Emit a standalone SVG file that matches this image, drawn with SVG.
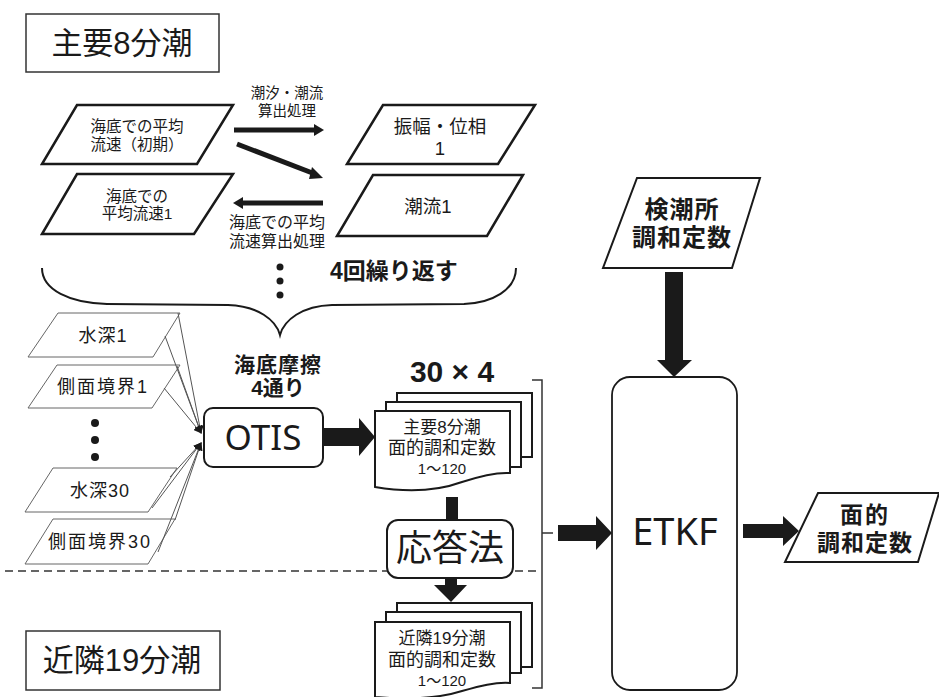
<svg xmlns="http://www.w3.org/2000/svg" width="939" height="697" viewBox="0 0 939 697">
<style>
.t{font-family:"Liberation Sans","Noto Sans CJK JP",sans-serif;fill:#1a1a1a;text-anchor:middle}
.b{font-weight:700}
.thick{fill:#fff;stroke:#1a1a1a;stroke-width:2.5;stroke-linejoin:miter}
.thin{fill:#fff;stroke:#666;stroke-width:1}
.box{fill:#fff;stroke:#1a1a1a;stroke-width:2}
.ln{fill:none;stroke:#1a1a1a;stroke-width:5}
.fine{fill:none;stroke:#555;stroke-width:1}
.ar{fill:#1a1a1a}
.doc{fill:#fff;stroke:#1a1a1a;stroke-width:2;stroke-linejoin:miter}
</style>
<defs>
<marker id="sm" viewBox="0 0 10 10" refX="9" refY="5" markerWidth="8" markerHeight="8" markerUnits="userSpaceOnUse" orient="auto"><path d="M0,0 L10,5 L0,10 Z" fill="#1a1a1a"/></marker>
</defs>
<rect width="939" height="697" fill="#fff"/>

<g id="label-main8">
<rect x="26" y="14" width="193" height="58" fill="#fff" stroke="#333" stroke-width="1.5"/>
<text class="t" x="122" y="54" font-size="31">主要8分潮</text>
</g>
<g id="label-near19">
<rect x="26" y="631" width="194" height="59" fill="#fff" stroke="#333" stroke-width="1.5"/>
<text class="t" x="122" y="671" font-size="31">近隣19分潮</text>
</g>

<g id="n-vel0">
<polygon class="thick" points="77,105 233,105 197,164 42,164"/>
<text class="t" x="137" y="132" font-size="15.5">海底での平均</text>
<text class="t" x="137" y="150" font-size="15.5">流速（初期）</text>
</g>
<g id="n-vel1">
<polygon class="thick" points="77,174 233,174 194,234 42,234"/>
<text class="t" x="137" y="202" font-size="15.5">海底での</text>
<text class="t" x="137" y="219" font-size="15.5">平均流速1</text>
</g>
<g id="n-amp">
<polygon class="thick" points="383,105 535,105 498,164 347,164"/>
<text class="t" x="440" y="133" font-size="18.5">振幅・位相</text>
<text class="t" x="440" y="155" font-size="18.5">1</text>
</g>
<g id="n-cur">
<polygon class="thick" points="373,175 523,175 487,236 337,236"/>
<text class="t" x="428" y="213" font-size="18.5">潮流1</text>
</g>

<g id="n-d1">
<polygon class="thin" points="58,313 180,313 153,357 28,357"/>
<text class="t" x="103" y="342" font-size="18" letter-spacing="1">水深1</text>
</g>
<g id="n-s1">
<polygon class="thin" points="57,365 180,365 152,408 28,408"/>
<text class="t" x="103" y="393" font-size="18" letter-spacing="2">側面境界1</text>
</g>
<g id="n-d30">
<polygon class="thin" points="53,468 177,468 148,512 25,512"/>
<text class="t" x="100" y="497" font-size="18" letter-spacing="1">水深30</text>
</g>
<g id="n-s30">
<polygon class="thin" points="53,519 175,519 148,564 25,564"/>
<text class="t" x="100" y="548" font-size="18" letter-spacing="2">側面境界30</text>
</g>

<g id="n-otis">
<rect class="box" x="204" y="408" width="119" height="59" rx="9"/>
<text class="t" x="263" y="450" font-size="35" style="font-family:'Noto Sans',sans-serif">OTIS</text>
</g>

<g id="n-doc1">
<rect class="doc" x="397" y="393" width="135" height="64"/>
<rect class="doc" x="386" y="402" width="135" height="65"/>
<path class="doc" d="M375,411 H510 V473 C495,472 480,476 462,482 C440,490 410,493 375,487 Z"/>
<text class="t" x="442" y="433" font-size="17">主要8分潮</text>
<text class="t" x="442" y="454" font-size="18">面的調和定数</text>
<text class="t" x="442" y="474" font-size="15">1〜120</text>
</g>

<g id="n-resp">
<rect class="box" x="387" y="520" width="126" height="58" rx="11"/>
<text class="t" x="450" y="561" font-size="36">応答法</text>
</g>

<g id="n-doc2">
<rect class="doc" x="397" y="603" width="135" height="64"/>
<rect class="doc" x="386" y="612" width="135" height="61"/>
<path class="doc" d="M375,622 H510 V683 C495,682 480,686 462,691 C440,698 410,700 375,697 Z"/>
<text class="t" x="442" y="644" font-size="17">近隣19分潮</text>
<text class="t" x="442" y="666" font-size="18">面的調和定数</text>
<text class="t" x="442" y="686" font-size="15">1〜120</text>
</g>

<g id="n-station">
<polygon class="box" points="637,178 760,178 732,268 603,268"/>
<text class="t b" x="682" y="218" font-size="24" letter-spacing="1">検潮所</text>
<text class="t b" x="682" y="246" font-size="24" letter-spacing="1">調和定数</text>
</g>

<g id="n-etkf">
<rect x="612" y="377" width="125" height="313" rx="18" fill="#fff" stroke="#1a1a1a" stroke-width="1.8"/>
<text class="t" x="675" y="545" font-size="38" style="font-family:'Noto Sans',sans-serif">ETKF</text>
</g>

<g id="n-out">
<polygon class="box" points="818,493 939,493 918,562 785,562"/>
<text class="t b" x="865" y="523" font-size="23" letter-spacing="2">面的</text>
<text class="t b" x="865" y="551" font-size="23" letter-spacing="1">調和定数</text>
</g>

<g id="connectors">
<line class="ln" x1="234" y1="130" x2="316" y2="130"/>
<polygon class="ar" points="314,124 324,130 314,136"/>
<line class="ln" x1="237" y1="144" x2="315" y2="174"/>
<polygon class="ar" points="312,167 323,178 309,179"/>
<line class="ln" x1="323" y1="203" x2="241" y2="203"/>
<polygon class="ar" points="243,197 233,203 243,209"/>

<path d="M42,268 C42,290 70,303 107,304 L228,305 C258,306 276,320 280,335 C284,320 302,306 332,305 L464,304 C492,303 516,290 516,268" fill="none" stroke="#1a1a1a" stroke-width="2"/>

<g class="fine">
<line x1="178" y1="313" x2="201" y2="433" marker-end="url(#sm)"/>
<line x1="165" y1="336" x2="201" y2="433" marker-end="url(#sm)"/>
<line x1="177" y1="366" x2="201" y2="433" marker-end="url(#sm)"/>
<line x1="164" y1="388" x2="201" y2="433" marker-end="url(#sm)"/>
<line x1="170" y1="477" x2="201" y2="443" marker-end="url(#sm)"/>
<line x1="152" y1="508" x2="201" y2="443" marker-end="url(#sm)"/>
<line x1="175" y1="520" x2="201" y2="443" marker-end="url(#sm)"/>
<line x1="158" y1="552" x2="201" y2="443" marker-end="url(#sm)"/>
</g>

<polygon class="ar" points="323,428 359,428 359,418 375,437 359,456 359,446 323,446"/>
<polygon class="ar" points="446,497 458,497 458,520 446,520"/>
<polygon class="ar" points="445,578 457,578 457,585 467,585 451,602 434,585 445,585"/>

<path d="M532,380 H542 V688 H532 M542,533 H553" fill="none" stroke="#333" stroke-width="1.5"/>
<polygon class="ar" points="558,525 596,525 596,516 612,533 596,550 596,541 558,541"/>
<polygon class="ar" points="665,272 683,272 683,360 692,360 674,377 657,360 665,360"/>
<polygon class="ar" points="743,524 783,524 783,516 799,531 783,546 783,538 743,538"/>

<line x1="5" y1="571" x2="387" y2="571" stroke="#333" stroke-width="1.5" stroke-dasharray="8,5"/>
<line x1="515" y1="571" x2="540" y2="571" stroke="#333" stroke-width="1.5" stroke-dasharray="8,5"/>
</g>

<g id="dots">
<circle cx="280" cy="267" r="3.5" fill="#1a1a1a"/>
<circle cx="280" cy="281" r="3.5" fill="#1a1a1a"/>
<circle cx="280" cy="295" r="3.5" fill="#1a1a1a"/>
<circle cx="95" cy="423" r="4" fill="#1a1a1a"/>
<circle cx="95" cy="440" r="4" fill="#1a1a1a"/>
<circle cx="95" cy="457" r="4" fill="#1a1a1a"/>
</g>

<g id="labels">
<text class="t" x="287" y="98" font-size="14.5">潮汐・潮流</text>
<text class="t" x="287" y="116" font-size="14.5">算出処理</text>
<text class="t" x="277" y="228" font-size="16">海底での平均</text>
<text class="t" x="277" y="247" font-size="16">流速算出処理</text>
<text class="t b" x="330" y="279" font-size="23" style="text-anchor:start">4回繰り返す</text>
<text class="t b" x="278" y="372" font-size="21" letter-spacing="1">海底摩擦</text>
<text class="t b" x="278" y="395" font-size="21">4通り</text>
<text class="t b" x="452" y="382" font-size="30">30 × 4</text>
</g>
</svg>
